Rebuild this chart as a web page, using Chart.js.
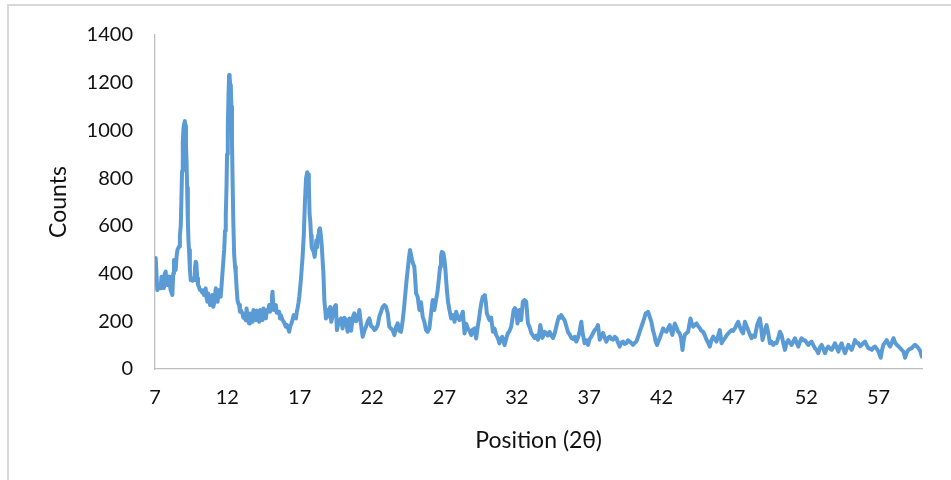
<!DOCTYPE html>
<html>
<head>
<meta charset="utf-8">
<script src="https://cdn.jsdelivr.net/npm/chart.js@4/dist/chart.umd.min.js"></script>
<style>
  html, body { margin: 0; padding: 0; background: #fff; }
  #wrap { width: 951px; height: 480px; }
</style>
</head>
<body>
<div id="wrap"><canvas id="xrdChart" width="951" height="480"></canvas></div>
<script>
// XRD pattern
const positions = [
  7.0, 7.05, 7.1, 7.16, 7.25, 7.3, 7.39, 7.45, 7.51, 7.56, 7.62, 7.68, 7.74, 7.8, 7.85, 7.9, 7.97, 8.03, 8.08, 8.14,
  8.2, 8.26, 8.31, 8.37, 8.43, 8.49, 8.55, 8.6, 8.66, 8.72, 8.78, 8.82, 8.87, 8.92, 8.97, 9.02, 9.06, 9.1, 9.14, 9.18,
  9.22, 9.27, 9.31, 9.35, 9.41, 9.47, 9.53, 9.6, 9.66, 9.7, 9.76, 9.81, 9.86, 9.92, 9.97, 10.04, 10.1, 10.16, 10.27, 10.33,
  10.39, 10.5, 10.56, 10.62, 10.68, 10.74, 10.8, 10.9, 10.97, 11.03, 11.1, 11.2, 11.26, 11.32, 11.43, 11.5, 11.54, 11.6, 11.66, 11.72,
  11.78, 11.84, 11.89, 11.94, 11.98, 12.03, 12.08, 12.12, 12.16, 12.2, 12.24, 12.28, 12.32, 12.36, 12.41, 12.47, 12.53, 12.58, 12.64, 12.7,
  12.76, 12.81, 12.87, 12.93, 13.04, 13.1, 13.16, 13.27, 13.33, 13.4, 13.5, 13.56, 13.62, 13.74, 13.8, 13.87, 13.97, 14.03, 14.1, 14.2,
  14.27, 14.35, 14.43, 14.5, 14.57, 14.66, 14.73, 14.8, 14.89, 14.95, 15.02, 15.08, 15.12, 15.17, 15.23, 15.35, 15.41, 15.47, 15.58, 15.64,
  15.7, 15.81, 15.9, 16.04, 16.1, 16.2, 16.27, 16.35, 16.42, 16.5, 16.58, 16.66, 16.74, 16.8, 16.85, 16.92, 16.97, 17.08, 17.2, 17.28,
  17.36, 17.44, 17.52, 17.58, 17.63, 17.68, 17.73, 17.78, 17.83, 17.9, 17.97, 18.03, 18.09, 18.15, 18.2, 18.27, 18.33, 18.4, 18.46, 18.52,
  18.58, 18.64, 18.7, 18.76, 18.81, 18.87, 18.95, 19.04, 19.1, 19.18, 19.3, 19.4, 19.5, 19.57, 19.7, 19.85, 19.96, 20.08, 20.2, 20.31,
  20.43, 20.55, 20.66, 20.77, 20.89, 21.0, 21.12, 21.23, 21.35, 21.47, 21.58, 21.7, 21.81, 21.93, 22.05, 22.16, 22.28, 22.39, 22.5, 22.62,
  22.73, 22.85, 22.96, 23.08, 23.19, 23.3, 23.42, 23.54, 23.65, 23.77, 23.88, 24.0, 24.12, 24.2, 24.3, 24.38, 24.46, 24.54, 24.62, 24.69,
  24.76, 24.84, 24.92, 25.0, 25.04, 25.15, 25.27, 25.38, 25.5, 25.61, 25.73, 25.84, 25.96, 26.07, 26.19, 26.3, 26.42, 26.52, 26.62, 26.7,
  26.76, 26.82, 26.93, 27.0, 27.07, 27.12, 27.18, 27.25, 27.35, 27.46, 27.58, 27.7, 27.81, 27.93, 28.04, 28.15, 28.27, 28.39, 28.5, 28.62,
  28.73, 28.85, 28.96, 29.08, 29.19, 29.3, 29.39, 29.47, 29.56, 29.65, 29.72, 29.79, 29.86, 29.93, 30.02, 30.11, 30.23, 30.35, 30.46, 30.58,
  30.69, 30.8, 30.9, 30.99, 31.07, 31.15, 31.26, 31.38, 31.5, 31.61, 31.7, 31.78, 31.87, 31.96, 32.05, 32.19, 32.3, 32.42, 32.54, 32.65,
  32.77, 32.88, 33.0, 33.12, 33.23, 33.35, 33.46, 33.55, 33.62, 33.7, 33.76, 33.84, 33.92, 34.05, 34.15, 34.27, 34.4, 34.5, 34.62, 34.73,
  34.82, 34.91, 35.0, 35.07, 35.18, 35.3, 35.42, 35.53, 35.65, 35.77, 35.9, 36.0, 36.11, 36.22, 36.34, 36.4, 36.46, 36.55, 36.69, 36.8,
  36.92, 37.03, 37.15, 37.27, 37.38, 37.5, 37.61, 37.73, 37.85, 37.96, 38.08, 38.19, 38.3, 38.42, 38.53, 38.65, 38.77, 38.88, 39.0, 39.11,
  39.22, 39.34, 39.45, 39.57, 39.68, 39.8, 39.92, 40.03, 40.15, 40.26, 40.38, 40.49, 40.6, 40.73, 40.82, 40.91, 41.0, 41.07, 41.18, 41.3,
  41.42, 41.53, 41.6, 41.69, 41.78, 41.88, 42.0, 42.11, 42.23, 42.34, 42.45, 42.57, 42.66, 42.75, 42.84, 42.92, 43.03, 43.15, 43.25, 43.35,
  43.45, 43.53, 43.61, 43.72, 43.84, 43.92, 44.0, 44.1, 44.19, 44.3, 44.42, 44.53, 44.65, 44.76, 44.88, 45.0, 45.11, 45.22, 45.34, 45.45,
  45.57, 45.68, 45.8, 45.92, 46.03, 46.15, 46.26, 46.38, 46.49, 46.61, 46.72, 46.84, 46.95, 47.07, 47.18, 47.3, 47.41, 47.52, 47.64, 47.76,
  47.87, 47.99, 48.1, 48.22, 48.33, 48.45, 48.53, 48.61, 48.7, 48.8, 48.89, 48.98, 49.1, 49.18, 49.26, 49.38, 49.49, 49.6, 49.72, 49.84,
  49.95, 50.07, 50.18, 50.3, 50.41, 50.53, 50.64, 50.76, 50.87, 50.99, 51.1, 51.22, 51.34, 51.45, 51.57, 51.68, 51.8, 51.91, 52.03, 52.14,
  52.26, 52.37, 52.49, 52.6, 52.72, 52.83, 52.95, 53.07, 53.18, 53.3, 53.41, 53.53, 53.64, 53.76, 53.88, 53.99, 54.1, 54.22, 54.33, 54.45,
  54.56, 54.68, 54.8, 54.91, 55.03, 55.14, 55.26, 55.37, 55.49, 55.6, 55.72, 55.83, 55.95, 56.06, 56.18, 56.3, 56.41, 56.53, 56.64, 56.76,
  56.87, 56.99, 57.07, 57.15, 57.24, 57.33, 57.44, 57.56, 57.68, 57.8, 57.91, 58.03, 58.15, 58.26, 58.38, 58.49, 58.6, 58.72, 58.83, 58.95,
  59.06, 59.18, 59.29, 59.4, 59.52, 59.64, 59.76, 59.88, 59.99
];

const counts = [
  450, 465, 402, 331, 345, 338, 338, 387, 387, 340, 359, 400, 408, 360, 352, 375, 387, 350, 331, 320,
  310, 400, 457, 430, 415, 470, 499, 505, 513, 560, 600, 700, 830, 950, 1010, 1030, 1040, 1020, 940, 870,
  760, 620, 540, 499, 420, 373, 380, 370, 380, 373, 420, 450, 443, 380, 352, 345, 331, 331, 320, 330,
  310, 338, 300, 282, 317, 300, 268, 300, 310, 261, 280, 338, 300, 282, 331, 310, 303, 350, 401, 450,
  499, 580, 640, 760, 900, 1010, 1150, 1232, 1220, 1190, 1183, 1100, 950, 800, 620, 480, 430, 401, 340, 289,
  275, 268, 240, 247, 233, 215, 220, 205, 254, 210, 191, 233, 230, 198, 247, 220, 205, 245, 230, 198,
  247, 225, 205, 254, 230, 212, 247, 240, 268, 240, 250, 300, 324, 270, 247, 268, 236, 240, 240, 212,
  225, 205, 198, 177, 185, 170, 156, 180, 190, 205, 226, 215, 212, 240, 254, 280, 303, 373, 471, 560,
  700, 800, 825, 815, 780, 650, 620, 560, 510, 499, 490, 470, 500, 540, 510, 560, 582, 590, 560, 520,
  457, 400, 289, 250, 212, 230, 220, 247, 260, 198, 230, 260, 268, 163, 200, 212, 170, 215, 205, 156,
  212, 160, 215, 233, 200, 210, 247, 190, 135, 160, 177, 200, 212, 180, 175, 163, 170, 184, 220, 240,
  260, 268, 261, 235, 177, 170, 163, 142, 175, 191, 160, 156, 205, 250, 317, 370, 415, 460, 499, 480,
  457, 440, 429, 360, 317, 303, 247, 280, 219, 198, 163, 156, 170, 230, 289, 247, 289, 324, 380, 429,
  470, 491, 485, 460, 415, 370, 324, 280, 247, 212, 226, 198, 240, 215, 205, 220, 240, 149, 190, 170,
  160, 142, 165, 170, 128, 177, 210, 247, 280, 303, 305, 310, 280, 233, 220, 205, 215, 156, 170, 142,
  130, 107, 125, 135, 120, 100, 125, 149, 160, 177, 210, 247, 255, 247, 191, 247, 205, 282, 289, 282,
  191, 177, 151, 140, 130, 140, 123, 150, 184, 160, 130, 140, 156, 150, 140, 156, 140, 130, 150, 177,
  200, 219, 215, 226, 215, 205, 180, 156, 145, 130, 125, 135, 115, 130, 156, 180, 198, 150, 108, 120,
  101, 125, 136, 150, 163, 170, 184, 123, 140, 151, 130, 115, 130, 136, 125, 123, 135, 130, 110, 94,
  110, 115, 105, 108, 120, 115, 108, 101, 110, 115, 135, 156, 175, 198, 215, 233, 230, 240, 220, 198,
  160, 136, 115, 101, 115, 130, 150, 170, 160, 156, 170, 184, 160, 143, 170, 191, 175, 156, 150, 130,
  80, 120, 143, 150, 156, 185, 212, 190, 177, 185, 191, 180, 170, 160, 156, 140, 123, 110, 94, 120,
  136, 125, 115, 140, 163, 108, 120, 129, 140, 149, 156, 163, 160, 170, 185, 198, 177, 160, 149, 198,
  180, 163, 145, 129, 140, 135, 160, 184, 200, 212, 170, 121, 150, 170, 184, 150, 108, 115, 101, 110,
  108, 130, 156, 142, 110, 80, 110, 121, 110, 101, 115, 129, 110, 94, 115, 129, 120, 121, 110, 101,
  110, 115, 100, 87, 80, 66, 90, 101, 85, 66, 85, 94, 85, 80, 95, 108, 90, 73, 95, 108,
  85, 66, 85, 101, 90, 80, 100, 121, 110, 108, 95, 101, 110, 115, 100, 87, 85, 80, 90, 94,
  85, 73, 60, 47, 80, 101, 110, 121, 105, 94, 110, 129, 110, 101, 95, 87, 80, 73, 47, 70,
  80, 85, 87, 95, 101, 95, 87, 75, 52
];

const xTicks = [7, 12, 17, 22, 27, 32, 37, 42, 47, 52, 57];
const yTicks = [0, 200, 400, 600, 800, 1000, 1200, 1400];

const FONT = 'Lato, Carlito, Calibri, sans-serif';

// light frame round the chart, open at the right and bottom like the crop
const framePlugin = {
    id: 'frame',
    beforeDraw(chart) {
        const ctx = chart.ctx;
        ctx.save();
        ctx.strokeStyle = '#d9d9d9';
        ctx.lineWidth = 2;
        ctx.beginPath();
        ctx.moveTo(8, 480);
        ctx.lineTo(8, 5);
        ctx.lineTo(951, 5);
        ctx.stroke();
        ctx.restore();
    }
};

const points = positions.map((p, i) => ({ x: p, y: counts[i] }));

new Chart(document.getElementById('xrdChart').getContext('2d'), {
    type: 'line',
    data: {
        datasets: [{
            data: points,
            borderColor: '#5b9bd5',
            borderWidth: 4,
            pointRadius: 0,
            tension: 0,
            fill: false,
            borderJoinStyle: 'round',
            borderCapStyle: 'round'
        }]
    },
    options: {
        responsive: false,
        animation: false,
        layout: { padding: { left: 0, right: 29, top: 35, bottom: 0 } },
        plugins: {
            legend: { display: false },
            tooltip: { enabled: false }
        },
        scales: {
            x: {
                type: 'linear',
                min: 7,
                max: 60,
                afterBuildTicks: scale => { scale.ticks = xTicks.map(v => ({ value: v })); },
                afterFit: scale => { scale.height = 111; },
                grid: { display: false, drawTicks: false },
                border: { display: true, color: '#bfbfbf', width: 1.3 },
                ticks: {
                    padding: 17, color: '#111', font: { family: FONT, size: 20 },
                    maxRotation: 0, autoSkip: false,
                    callback: v => String(v)
                },
                title: {
                    display: true,
                    text: 'Position (2θ)',
                    color: '#111',
                    font: { family: FONT, size: 23 },
                    padding: { top: 0, bottom: 26 }
                }
            },
            y: {
                min: 0,
                max: 1400,
                afterBuildTicks: scale => { scale.ticks = yTicks.map(v => ({ value: v })); },
                afterFit: scale => { scale.width = 155; },
                grid: { display: false, drawTicks: false },
                border: { display: true, color: '#bfbfbf', width: 1.3 },
                ticks: {
                    padding: 22, color: '#111', font: { family: FONT, size: 20 },
                    callback: v => String(v)
                },
                title: {
                    display: true,
                    text: 'Counts',
                    color: '#111',
                    font: { family: FONT, size: 23 },
                    padding: { top: 45, bottom: 0 }
                }
            }
        }
    },
    plugins: [framePlugin]
});
</script>
</body>
</html>
